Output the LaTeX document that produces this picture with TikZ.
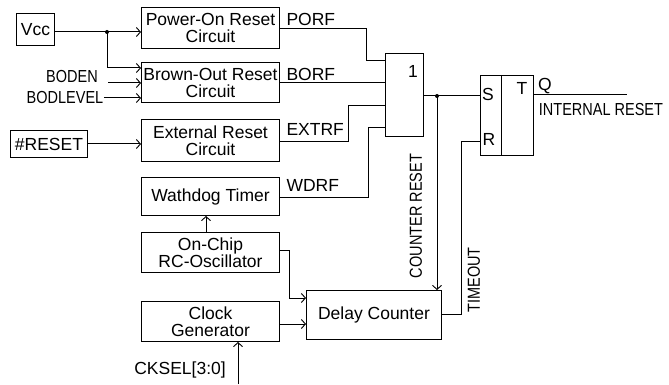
\documentclass[tikz,border=0pt]{standalone}
\usepackage{fontspec}
\usepackage{graphicx}
\setmainfont{Liberation Sans}
\usetikzlibrary{arrows.meta}
\newcommand\fntL{\fontsize{17.5}{17}\selectfont}
\newcommand\fntS{\fontsize{14.5}{16}\selectfont}
\newcommand\smt[1]{\scalebox{1}[1.2]{\fntS #1}}
\begin{document}
\begin{tikzpicture}[x=1pt,y=-1pt,line width=1pt,
  box/.style={draw,line width=1pt,anchor=north west,inner sep=0pt,align=center,font=\fntL},
  lbl/.style={inner sep=0pt,font=\fntL},
  wire/.style={line width=1pt},
  arr/.style={wire,-{Straight Barb[length=4pt,width=9pt,line width=0.9pt]}},
  dot/.style={circle,fill,inner sep=0pt,minimum size=4pt}]
\useasboundingbox[fill=white] (0,0) rectangle (669,385);

% boxes
\node[box,minimum width=38,minimum height=32] (vcc) at (16,13) {Vcc};
\node[box,minimum width=138,minimum height=41] (por) at (141,7) {Power-On Reset\\Circuit};
\node[box,minimum width=138,minimum height=40] (bor) at (141,62) {Brown-Out Reset\\Circuit};
\node[box,minimum width=77,minimum height=27] (rst) at (10,130) {\#RESET};
\node[box,minimum width=138,minimum height=42] (ext) at (141,119) {External Reset\\Circuit};
\node[box,minimum width=138,minimum height=38] (wdt) at (141,177) {Wathdog Timer};
\node[box,minimum width=138,minimum height=40] (osc) at (141,232) {On-Chip\\RC-Oscillator};
\node[box,minimum width=138,minimum height=40] (clk) at (141,301) {Clock\\Generator};
\node[box,minimum width=135,minimum height=49] (dc) at (306,290) {Delay Counter};
\node[box,minimum width=38,minimum height=83] (gate) at (385,53) {};
\node[lbl] (one) at (413,71) {1};
\node[box,minimum width=53,minimum height=80] (sr) at (480,75) {};
\draw[wire] (501,75) coordinate (divt) -- (divt |- sr.south);
\node[lbl] (s) at (488,94) {S};
\node[lbl] (r) at (489,139) {R};
\node[lbl] (t) at (522,88) {T};
\node[lbl] (q) at (545,86) {Q};
\node[inner sep=0pt] (ir) at (601,110) {\smt{INTERNAL RESET}};

% signal labels
\node[lbl,anchor=west] (porf) at (286,19) {PORF};
\node[lbl,anchor=west] (borf) at (286,74) {BORF};
\node[lbl,anchor=west] (extrf) at (286,129) {EXTRF};
\node[lbl,anchor=west] (wdrf) at (286,185) {WDRF};
\node[inner sep=0pt] (boden) at (72,77) {\smt{BODEN}};
\node[inner sep=0pt] (bodlevel) at (65,98) {\smt{BODLEVEL}};
\node[lbl] (cksel) at (180,370) {CKSEL[3:0]};
\node[inner sep=0pt,rotate=90] (cr) at (416,216) {\smt{COUNTER RESET}};
\node[inner sep=0pt,rotate=90] (to) at (474,280) {\smt{TIMEOUT}};

% inputs
\coordinate (j1) at (107,32);
\draw[arr] (vcc.east |- j1) -- (por.west |- j1);
\draw[arr] (j1) |- (bor.west |- 0,68);
\node[dot] at (j1) {};
\coordinate (bodenS) at (108,83);
\draw[arr] (bodenS) -- (bor.west |- bodenS);
\draw[arr] (bodlevel.east) -- (bor.west |- bodlevel.east);
\draw[arr] (rst.east |- 0,144) -- (ext.west |- 0,144);
\draw[arr] (osc.north -| 206,0) -- (wdt.south -| 206,0);
\coordinate (ckS) at (238,384);
\draw[arr] (ckS) -- (clk.south -| ckS);

% to gate
\draw[wire] (por.east |- 0,29) -- (366,29) |- (gate.west |- 0,61);
\draw[wire] (bor.east |- 0,83) -- (gate.west |- 0,83);
\draw[wire] (ext.east |- 0,142) -- (348,142) |- (gate.west |- 0,106);
\draw[wire] (wdt.east |- 0,197) -- (368,197) |- (gate.west |- 0,128);

% gate to SR and counter
\coordinate (j2) at (437,96);
\draw[wire] (gate.east |- j2) -- (sr.west |- j2);
\node[dot] at (j2) {};
\draw[arr] (j2) -- (dc.north -| j2);
\draw[wire] (dc.east |- 0,314) -- (461,314) |- (sr.west |- 0,142);

% clocks to counter
\draw[arr] (osc.east |- 0,250) -- (289,250) |- (dc.west |- 0,298);
\draw[arr] (clk.east |- 0,324) -- (dc.west |- 0,324);

% output
\coordinate (qend) at (627,95);
\draw[wire] (sr.east |- qend) -- (qend);
\end{tikzpicture}
\end{document}
